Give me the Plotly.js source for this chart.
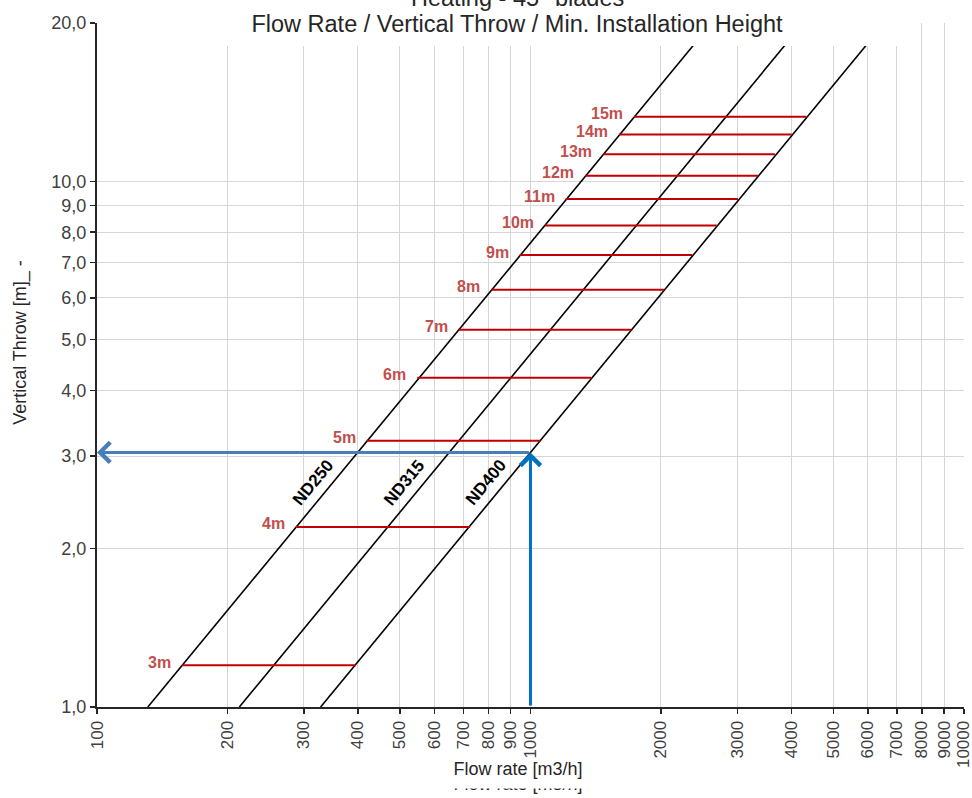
<!DOCTYPE html>
<html>
<head>
<meta charset="utf-8">
<script src="https://cdn.plot.ly/plotly-3.0.1.min.js"></script>
<style>html,body{margin:0;padding:0;background:#fff;}#chart{width:972px;height:798px;}</style>
</head>
<body>
<div id="chart"></div>
<script>
// ---- data ----
const flowTicks = [100,200,300,400,500,600,700,800,900,1000,2000,3000,4000,5000,6000,7000,8000,9000,10000];
const flowTickText = ['100','200','300','400','500','600','700','800','900','1000','2000','3000','4000','5000','6000','7000','8000','9000','10000'];
const throwTicks = [1,2,3,4,5,6,7,8,9,10,20];
const throwTickText = ['1,0','2,0','3,0','4,0','5,0','6,0','7,0','8,0','9,0','10,0','20,0'];

// nozzle lines (flow rate [m3/h] at vertical throw 1 m and 20 m)
const ndNames = ['ND250','ND315','ND400'];
const ndThrow = [1, 20];
const ndFlowAtThrow1 = [131, 213, 328];
const ndFlowAtThrow20 = [2620, 4260, 6560];

// min. installation heights
const heightLabels = ['3m','4m','5m','6m','7m','8m','9m','10m','11m','12m','13m','14m','15m'];
const heightThrow = [1.2, 2.2, 3.21, 4.23, 5.22, 6.22, 7.24, 8.24, 9.25, 10.24, 11.26, 12.27, 13.26];
const heightFlowStart = [157, 288, 419, 548, 683, 813, 945, 1080, 1206, 1337, 1471, 1601, 1734];
const heightFlowEnd = [395, 725, 1053, 1380, 1709, 2033, 2362, 2689, 3010, 3347, 3663, 4002, 4335];

// reading example
const exampleFlow = 1000;
const exampleThrow = 3.05;
const ndLabelThrow = 2.56;

// ---- build ----
const FONT = 'Liberation Sans, Arial, sans-serif';
const NB = '\u00A0', ZW = '\u200B';
const L = Math.log10;
const traces = [];

ndNames.forEach((n, i) => {
  traces.push({
    type: 'scatter', mode: 'lines', name: n,
    x: [ndFlowAtThrow1[i], ndFlowAtThrow20[i]], y: ndThrow,
    line: {color: '#000000', width: 1.6}, hoverinfo: 'name'
  });
});

const hx = [], hy = [];
heightLabels.forEach((h, i) => {
  hx.push(heightFlowStart[i], heightFlowEnd[i], null);
  hy.push(heightThrow[i], heightThrow[i], null);
});
traces.push({
  type: 'scatter', mode: 'lines', name: 'Min. installation height',
  x: hx, y: hy, line: {color: '#c00000', width: 2}, hoverinfo: 'skip'
});

const annotations = [];
heightLabels.forEach((h, i) => {
  annotations.push({
    xref: 'x', yref: 'y', x: L(heightFlowStart[i]), y: L(heightThrow[i]),
    text: h, showarrow: false, xanchor: 'right', yanchor: 'middle',
    xshift: -9, yshift: 3,
    font: {family: FONT, size: 16, color: '#c0504d', weight: 700}
  });
});
ndNames.forEach((n, i) => {
  const q = ndFlowAtThrow1[i] * ndLabelThrow / ndThrow[0];
  annotations.push({
    xref: 'x', yref: 'y', x: L(q), y: L(ndLabelThrow),
    text: n, showarrow: false, textangle: -50.5,
    xshift: -11.5, yshift: 9.5,
    font: {family: FONT, size: 17, color: '#000000', weight: 700}
  });
});
// arrows of the reading example
annotations.push({
  xref: 'x', yref: 'y', axref: 'x', ayref: 'y',
  x: L(flowTicks[0]), y: L(exampleThrow), ax: L(exampleFlow), ay: L(exampleThrow),
  text: '', showarrow: true, arrowhead: 4, arrowsize: 1.3, arrowwidth: 3,
  arrowcolor: '#4a7ebb', standoff: 0
});
annotations.push({
  xref: 'x', yref: 'y', axref: 'x', ayref: 'y',
  x: L(exampleFlow), y: L(exampleThrow), ax: L(exampleFlow), ay: L(throwTicks[0]),
  text: '', showarrow: true, arrowhead: 4, arrowsize: 1.3, arrowwidth: 3,
  arrowcolor: '#0070c0', standoff: 0
});
// first (cut) title line
annotations.push({
  xref: 'paper', yref: 'paper', x: (517 - 97) / 867, y: (707 + 1.7) / 684, xanchor: 'center', yanchor: 'middle',
  text: 'Heating - 45° blades', showarrow: false,
  font: {family: FONT, size: 23.5, color: '#262626'}
});
// main x-axis caption (its white box hides the top of the repeated axis title below)
annotations.push({
  xref: 'paper', yref: 'paper', x: (518 - 97) / 867, y: (707 - 758) / 684, xanchor: 'center', yanchor: 'top',
  text: 'Flow rate [m3/h]', showarrow: false, bgcolor: '#ffffff', borderpad: 0,
  width: 150, height: 29, valign: 'top',
  font: {family: FONT, size: 18, color: '#262626'}
});

const layout = {
  width: 972, height: 798,
  margin: {l: 97, r: 8, t: 23, b: 91},
  paper_bgcolor: '#ffffff', plot_bgcolor: '#ffffff',
  showlegend: false,
  font: {family: FONT, color: '#404040'},
  title: {
    text: 'Flow Rate / Vertical Throw / Min. Installation Height',
    xref: 'container', yref: 'container', x: 517/972, xanchor: 'center',
    y: 1 - 24/798, yanchor: 'middle',
    font: {family: FONT, size: 23.5, color: '#262626'}
  },
  xaxis: {
    type: 'log', range: [L(flowTicks[0]), L(flowTicks[flowTicks.length-1]) + 0.0002],
    tickmode: 'array', tickvals: flowTicks, ticktext: flowTickText, tickangle: -90,
    ticklabeloverflow: 'allow',
    ticks: 'outside', ticklen: 5, tickwidth: 1.5, tickcolor: '#262626',
    showgrid: true, gridcolor: '#d6d6d6', gridwidth: 1,
    showline: true, linecolor: '#262626', linewidth: 2, zeroline: false,
    tickfont: {family: FONT, size: 17, color: '#404040'},
    title: {text: 'Flow rate [m3/h]' + NB.repeat(5) + ZW, standoff: 10, font: {family: FONT, size: 18, color: '#262626'}},
    automargin: false, fixedrange: true
  },
  yaxis: {
    type: 'log', range: [L(throwTicks[0]), L(throwTicks[throwTicks.length-1])],
    tickmode: 'array', tickvals: throwTicks, ticktext: throwTickText,
    ticks: 'outside', ticklen: 5, tickwidth: 1.5, tickcolor: '#262626',
    showgrid: true, gridcolor: '#d6d6d6', gridwidth: 1,
    showline: true, linecolor: '#262626', linewidth: 2, zeroline: false,
    tickfont: {family: FONT, size: 18, color: '#404040'},
    title: {text: ZW + NB.repeat(9) + 'Vertical Throw [m]_ -', standoff: 20, font: {family: FONT, size: 18, color: '#262626'}},
    automargin: false, fixedrange: true
  },
  shapes: [{
    type: 'rect', xref: 'paper', yref: 'paper', x0: 0.0242, x1: 0.9446, y0: 0.9664, y1: 1.04,
    fillcolor: '#ffffff', line: {width: 0}, layer: 'above'
  }],
  annotations: annotations
};

Plotly.newPlot('chart', traces, layout, {displayModeBar: false, staticPlot: true});
</script>
</body>
</html>
